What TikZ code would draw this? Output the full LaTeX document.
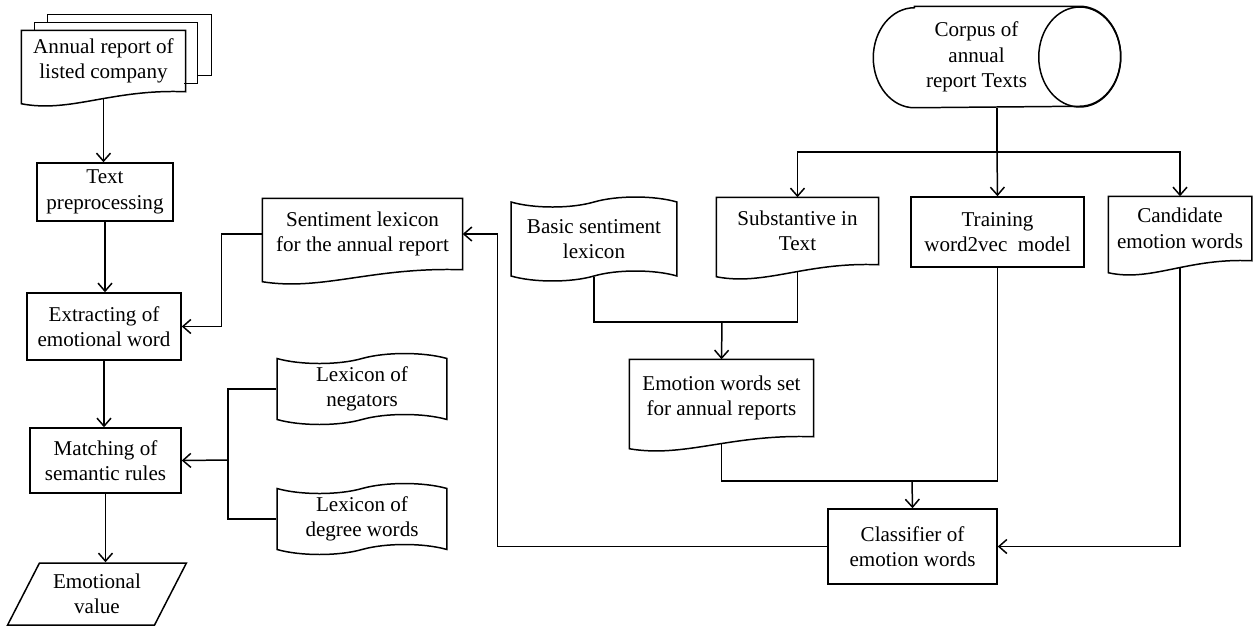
\documentclass[tikz,border=0pt]{standalone}
\usepackage{fontspec}
\setmainfont{Liberation Serif}
\usetikzlibrary{arrows.meta,calc,shapes.geometric,shapes.symbols}

% document outline with a wavy bottom, plus a point on the wave
\newcommand{\docshape}[1]{%
  \draw (#1.north west) -- (#1.north east) -- (#1.south east)
    .. controls ($(#1.south west)!0.55!(#1.south east)+(0cm,0.06cm)$)
       and ($(#1.south west)!0.3!(#1.south east)+(0cm,-0.43cm)$)
    .. ([yshift=-0.24cm]#1.south west) -- cycle;
  \coordinate (#1-w) at ([yshift=-0.145cm]#1.south);}

% lying cylinder, the node ends at the centre of the right face
\newcommand{\drumshape}[1]{%
  \draw ([xshift=0.82cm]#1.north west) -- (#1.north east)
    arc[start angle=90, end angle=-90, x radius=0.82cm, y radius=1cm]
    -- ([xshift=0.82cm]#1.south west)
    arc[start angle=270, end angle=90, x radius=0.82cm, y radius=1cm] -- cycle;
  \draw (#1.east) ellipse[x radius=0.82cm, y radius=1cm];}

\begin{document}
\begin{tikzpicture}[
    x=0.02cm, y=-0.02cm,
    line width=0.85pt,
    >={Straight Barb[length=1.6mm,width=2.8mm]},
    every node/.style={font=\fontsize{12}{14.5}\selectfont, align=center, inner sep=1pt},
    proc/.style={draw, rectangle},
    doc/.style={rectangle},
    lexicon/.style={draw, tape, tape bend top=in and out, tape bend bottom=in and out, tape bend height=0.2cm},
    io/.style={draw, trapezium, trapezium left angle=60, trapezium right angle=120, trapezium stretches=true}
]
    \useasboundingbox (0,0) rectangle (1253,626);

    % --- LEFT COLUMN ---
    \node[doc, minimum width=3.26cm, minimum height=1.2cm] (ann) at (103.5,61) {Annual report of\\listed company};
    \docshape{ann}
    \draw ([xshift=0.26cm]ann.north west) -- ++(0,-8) -- ++(163,0) -- ++(0,61) -- ++(-13,0);
    \draw ([xshift=0.52cm,yshift=0.16cm]ann.north west) -- ++(0,-8) -- ++(164,0) -- ++(0,61) -- ++(-14,0);

    \node[proc, minimum width=2.72cm, minimum height=1.16cm] (pre) at (105,192) {Text\\preprocessing};
    \node[proc, minimum width=3.08cm, minimum height=1.34cm] (ext) at (104,326.5) {Extracting of\\emotional word};
    \node[proc, minimum width=3.02cm, minimum height=1.3cm] (mat) at (105.5,460.5) {Matching of\\semantic rules};
    \node[io, minimum width=3.6cm, minimum height=1.24cm] (val) at (97,594) {Emotional\\value};

    \draw[->] (ann-w) -- (ann-w |- pre.north);
    \draw[->] (pre.south) -- (pre.south |- ext.north);
    \draw[->] (ext.south) -- (ext.south |- mat.north);
    \draw[->] (mat.south) -- (mat.south |- val.north);

    % --- LEXICONS ---
    \node[doc, minimum width=3.98cm, minimum height=1.4cm] (sen) at (362.5,234) {Sentiment lexicon\\for the annual report};
    \docshape{sen}
    \node[lexicon, minimum width=3.4cm, minimum height=1.42cm] (neg) at (362,389) {Lexicon of\\negators};
    \node[lexicon, minimum width=3.4cm, minimum height=1.42cm] (deg) at (362,519) {Lexicon of\\degree words};

    \coordinate (lexj) at (228,460);
    \draw (neg.west) -| (lexj);
    \draw (deg.west) -| (lexj);
    \draw[->] (lexj) -- (mat.east);
    \draw[->] (sen.west) -- ++(-41,0) |- (ext.east);

    % --- RIGHT PART ---
    \node[minimum width=4.1cm, minimum height=2cm] (cor) at (976.5,57) {Corpus of\\annual\\report Texts};
    \drumshape{cor}
    \node[lexicon, minimum width=3.32cm, minimum height=1.68cm] (bas) at (594,239) {Basic sentiment\\lexicon};
    \node[doc, minimum width=3.22cm, minimum height=1.32cm] (sub) at (797.5,231) {Substantive in\\Text};
    \docshape{sub}
    \node[proc, minimum width=3.46cm, minimum height=1.4cm] (trn) at (997.5,232) {Training\\word2vec~~model};
    \node[doc, minimum width=2.84cm, minimum height=1.26cm] (cand) at (1180,228.5) {Candidate\\emotion words};
    \docshape{cand}
    \node[doc, minimum width=3.66cm, minimum height=1.52cm] (ews) at (721.5,398) {Emotion words set\\for annual reports};
    \docshape{ews}
    \node[proc, minimum width=3.38cm, minimum height=1.5cm] (cls) at (912.5,546.5) {Classifier of\\emotion words};

    % corpus splits into three
    \coordinate (split) at (997,152);
    \draw (split |- cor.south) -- (split);
    \draw[->] (split) -| (sub.north);
    \draw[->] (split) -- (trn.north);
    \draw[->] (split) -| (cand.north);

    % lexicon + substantive
    \coordinate (merge) at (722,322);
    \draw (bas.south) |- (merge);
    \draw (sub-w) |- (merge);
    \draw[->] (merge) -- (ews.north);

    % word set + word2vec
    \coordinate (join) at (912,481);
    \draw (ews-w) |- (join);
    \draw (trn.south) |- (join);
    \draw[->] (join) -- (cls.north);

    \draw[->] (cand-w) |- (cls.east);
    \draw[->] (cls.west) -- ++(-330,0) |- (sen.east);

\end{tikzpicture}
\end{document}
